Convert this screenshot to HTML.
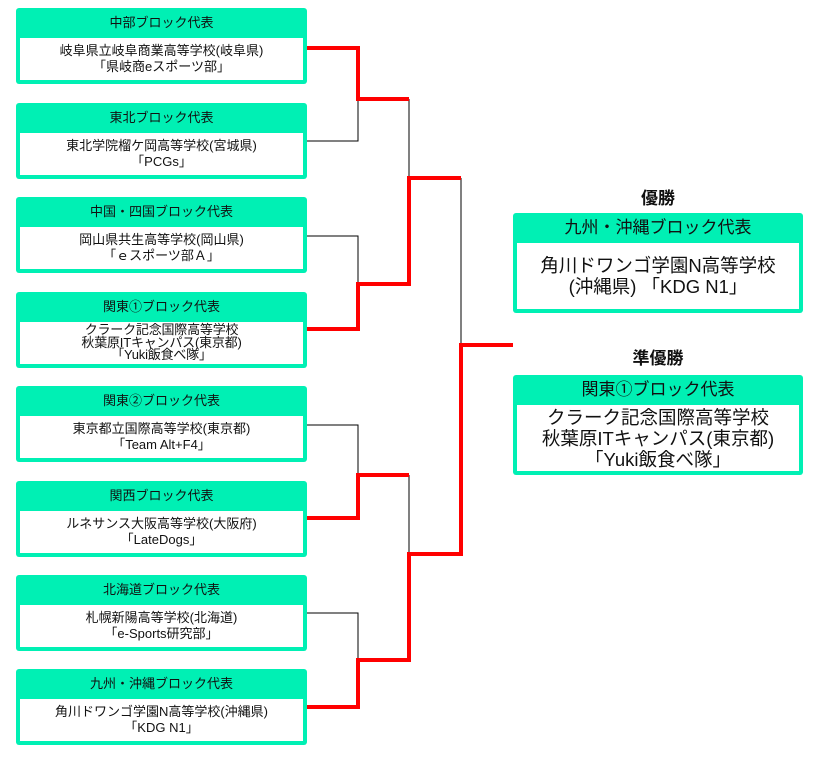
<!DOCTYPE html>
<html><head><meta charset="utf-8"><style>
body{margin:0;width:824px;height:758px;background:#fff;position:relative;overflow:hidden;font-family:"Liberation Sans","Noto Sans CJK JP",sans-serif;color:#111}
.b{position:absolute;left:16px;width:291px;height:76px;background:#00f0b4;border-radius:3px}
.b .h{height:30px;line-height:29px;text-align:center;font-size:13px}
.b .w{position:absolute;left:4px;right:4px;top:30px;bottom:4px;background:#fff;text-align:center;font-size:13px;line-height:16px;display:flex;flex-direction:column;justify-content:center}
.b .w.t{line-height:12.5px;font-size:13px;letter-spacing:-0.2px}
.r{position:absolute;left:513px;width:290px;height:100px;background:#00f0b4;border-radius:3px}
.r .h{height:30px;line-height:30px;text-align:center;font-size:17px}
.r .w{position:absolute;left:4px;right:4px;top:30px;bottom:4px;background:#fff;text-align:center;font-size:18.5px;line-height:21px;display:flex;flex-direction:column;justify-content:center}
.ti{position:absolute;left:513px;width:290px;text-align:center;font-weight:bold;font-size:17px}
svg{position:absolute;left:0;top:0}
</style></head><body>
<svg width="824" height="758">
<g stroke="#000" stroke-width="1" fill="none">
<path d="M307 141H358V99"/><path d="M409 99V178"/><path d="M307 236H358V284"/>
<path d="M461 178V345"/><path d="M307 425H358V475"/><path d="M409 475V554"/><path d="M307 613H358V660"/>
</g>
<g stroke="#f00" stroke-width="4" fill="none" stroke-linejoin="miter">
<path d="M307 48H358V99H409"/><path d="M307 329H358V284H409V178H461"/>
<path d="M307 518H358V475H409"/><path d="M307 707H358V660H409V554H461V345H513"/>
</g>
</svg>
<div class="b" style="top:8px"><div class="h">中部ブロック代表</div><div class="w"><div>岐阜県立岐阜商業高等学校(岐阜県)</div><div>「県岐商eスポーツ部」</div></div></div>
<div class="b" style="top:103px"><div class="h">東北ブロック代表</div><div class="w"><div>東北学院榴ケ岡高等学校(宮城県)</div><div>「PCGs」</div></div></div>
<div class="b" style="top:197px"><div class="h">中国・四国ブロック代表</div><div class="w"><div>岡山県共生高等学校(岡山県)</div><div>「ｅスポーツ部Ａ」</div></div></div>
<div class="b" style="top:292px"><div class="h">関東①ブロック代表</div><div class="w t"><div>クラーク記念国際高等学校</div><div>秋葉原ITキャンパス(東京都)</div><div>「Yuki飯食べ隊」</div></div></div>
<div class="b" style="top:386px"><div class="h">関東②ブロック代表</div><div class="w"><div>東京都立国際高等学校(東京都)</div><div>「Team Alt+F4」</div></div></div>
<div class="b" style="top:481px"><div class="h">関西ブロック代表</div><div class="w"><div>ルネサンス大阪高等学校(大阪府)</div><div>「LateDogs」</div></div></div>
<div class="b" style="top:575px"><div class="h">北海道ブロック代表</div><div class="w"><div>札幌新陽高等学校(北海道)</div><div>「e-Sports研究部」</div></div></div>
<div class="b" style="top:669px"><div class="h">九州・沖縄ブロック代表</div><div class="w"><div>角川ドワンゴ学園N高等学校(沖縄県)</div><div>「KDG N1」</div></div></div>
<div class="ti" style="top:184px">優勝</div>
<div class="r" style="top:213px"><div class="h">九州・沖縄ブロック代表</div><div class="w"><div>角川ドワンゴ学園N高等学校</div><div>(沖縄県) 「KDG N1」</div></div></div>
<div class="ti" style="top:344px">準優勝</div>
<div class="r" style="top:375px"><div class="h">関東①ブロック代表</div><div class="w"><div>クラーク記念国際高等学校</div><div>秋葉原ITキャンパス(東京都)</div><div>「Yuki飯食べ隊」</div></div></div>
</body></html>
